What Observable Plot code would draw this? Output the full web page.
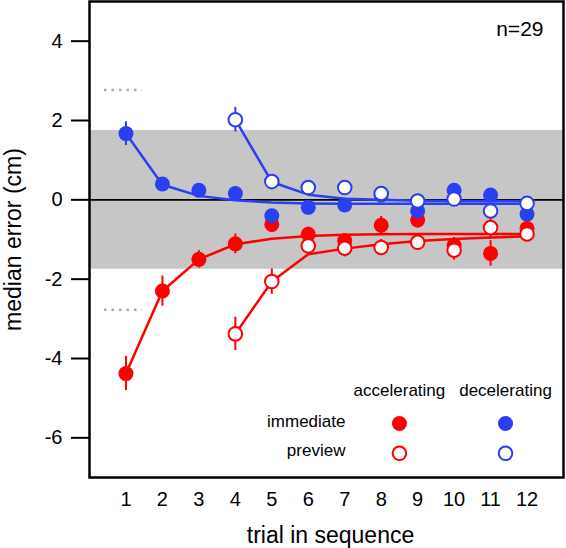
<!DOCTYPE html>
<html><head><meta charset="utf-8">
<script src="https://cdn.jsdelivr.net/npm/d3@7"></script>
<script src="https://cdn.jsdelivr.net/npm/@observablehq/plot@0.6"></script>
<style>html,body{margin:0;padding:0;background:#fff}svg{display:block}</style>
</head><body><div id="chart"></div>
<script>
// ---- data ----
const trials = [1,2,3,4,5,6,7,8,9,10,11,12];
const previewTrials = [4,5,6,7,8,9,10,11,12];
const yTicks = [-6,-4,-2,0,2,4];

const accImm    = [-4.38,-2.30,-1.50,-1.11,-0.62,-0.87,-1.03,-0.64,-0.51,-1.15,-1.35,-0.72];
const accImmErr = [0.43,0.38,0.22,0.25,0.20,0.18,0.18,0.22,0.20,0.20,0.32,0.18];
const decImm    = [1.67,0.40,0.24,0.16,-0.40,-0.19,-0.13,0.12,-0.28,0.24,0.12,-0.36];
const decImmErr = [0.30,0.12,0.12,0.12,0.12,0.12,0.12,0.12,0.12,0.12,0.12,0.12];
const accPrev    = [-3.38,-2.06,-1.16,-1.22,-1.20,-1.07,-1.27,-0.70,-0.86];
const accPrevErr = [0.42,0.32,0.20,0.22,0.20,0.20,0.25,0.30,0.15];
const decPrev    = [2.02,0.46,0.31,0.31,0.16,-0.03,0.02,-0.28,-0.09];
const decPrevErr = [0.31,0.12,0.12,0.12,0.12,0.12,0.12,0.12,0.12];

// fitted curves (read at each trial)
const accImmFit  = [-4.38,-2.30,-1.50,-1.12,-0.98,-0.91,-0.88,-0.87,-0.86,-0.86,-0.86,-0.86];
const decImmFit  = [1.67,0.38,0.10,-0.01,-0.07,-0.09,-0.10,-0.10,-0.10,-0.10,-0.10,-0.10];
const accPrevFit = [-3.38,-2.06,-1.37,-1.23,-1.12,-1.04,-0.99,-0.95,-0.92];
const decPrevFit = [2.02,0.45,0.13,0.03,0.00,-0.02,-0.03,-0.03,-0.03];

const bandLimits = [-1.75, 1.75];
const chanceLevels = [2.77, -2.77];
const chanceX = [0.41, 1.45];
const sampleLabel = "n=29";
const xLabel = "trial in sequence";
const yLabel = "median error (cm)";

// legend
const legendCols = ["accelerating","decelerating"];
const legendColX = [8.5, 11.41];
const legendRows = ["immediate","preview"];
const legendRowTextX = 7.02;
const legendHeaderY = -4.80;
const legendRowTextY = [-5.60,-6.31];
const legendDotY = [-5.64,-6.39];

const RED = "#ff0000", BLUE = "#2a3ff0";

const rows = (xs, ys, es) => xs.map((x,i)=>({x, y: ys[i], lo: ys[i]-es[i], hi: ys[i]+es[i]}));
const pts = (xs, ys) => xs.map((x,i)=>({x, y: ys[i]}));

const dAccImm = rows(trials, accImm, accImmErr);
const dDecImm = rows(trials, decImm, decImmErr);
const dAccPrev = rows(previewTrials, accPrev, accPrevErr);
const dDecPrev = rows(previewTrials, decPrev, decPrevErr);

const font = "'Liberation Sans', Arial, Helvetica, sans-serif";

const errBars = (d, c) => Plot.ruleX(d, {x:"x", y1:"lo", y2:"hi", stroke:c, strokeWidth:2});
const fitLine = (xs, ys, c) => Plot.line(pts(xs, ys), {x:"x", y:"y", stroke:c, strokeWidth:2.5});
const filled = (d, c) => Plot.dot(d, {x:"x", y:"y", r:7.5, fill:c, stroke:null});
const open = (d, c) => Plot.dot(d, {x:"x", y:"y", r:6.8, fill:"white", stroke:c, strokeWidth:2});

const legendDots = [];
legendCols.forEach((col, ci) => legendRows.forEach((row, ri) =>
  legendDots.push({x: legendColX[ci], y: legendDotY[ri], c: ci === 0 ? RED : BLUE, open: ri === 1})));

const chart = Plot.plot({
  width: 566, height: 548,
  marginLeft: 89, marginRight: 3, marginTop: 1, marginBottom: 71,
  style: {fontFamily: font, background: "#fff", color: "#000"},
  x: {domain: [0, 13]},
  y: {domain: [-7, 5]},
  marks: [
    Plot.rect([{y1: bandLimits[0], y2: bandLimits[1]}], {y1:"y1", y2:"y2", fill:"#c6c6c6"}),
    Plot.ruleY(chanceLevels, {x1: chanceX[0], x2: chanceX[1], stroke:"#aaaaaa", strokeWidth:2.5, strokeDasharray:"2.5,5"}),
    Plot.ruleY([0], {stroke:"#000", strokeWidth:1.6}),
    fitLine(trials, accImmFit, RED),
    fitLine(trials, decImmFit, BLUE),
    fitLine(previewTrials, accPrevFit, RED),
    fitLine(previewTrials, decPrevFit, BLUE),
    errBars(dAccImm, RED), errBars(dDecImm, BLUE),
    errBars(dAccPrev, RED), errBars(dDecPrev, BLUE),
    filled(dAccImm, RED), filled(dDecImm, BLUE),
    open(dAccPrev, RED), open(dDecPrev, BLUE),
    Plot.frame({stroke:"#000", strokeWidth:2.5}),
    Plot.axisY({ticks: yTicks, tickSize: 18, tickPadding: 9, fontSize: 20, strokeWidth: 2, label: null, tickFormat: d => String(d)}),
    Plot.axisX({ticks: trials, tickSize: 0, tickPadding: 14, fontSize: 20, label: null}),
    Plot.text([yLabel], {frameAnchor:"left", rotate:-90, textAnchor:"middle", dx:-76, fontSize:23, lineAnchor:"middle"}),
    Plot.text([xLabel], {frameAnchor:"bottom", textAnchor:"middle", dx:4, dy:58, fontSize:23, lineAnchor:"middle"}),
    Plot.text([sampleLabel], {frameAnchor:"top-right", textAnchor:"end", dx:-20, dy:28, fontSize:21, lineAnchor:"middle"}),
    Plot.text(legendCols, {x:(d,i)=>legendColX[i], y:legendHeaderY, fontSize:17, lineAnchor:"middle"}),
    Plot.text(legendRows, {x:legendRowTextX, y:(d,i)=>legendRowTextY[i], textAnchor:"end", fontSize:17, lineAnchor:"middle"}),
    Plot.dot(legendDots.filter(d=>!d.open), {x:"x", y:"y", r:7.5, fill:d=>d.c, stroke:null}),
    Plot.dot(legendDots.filter(d=>d.open), {x:"x", y:"y", r:6.8, fill:"white", stroke:d=>d.c, strokeWidth:2})
  ]
});
document.getElementById("chart").appendChild(chart);
</script>
</body></html>
